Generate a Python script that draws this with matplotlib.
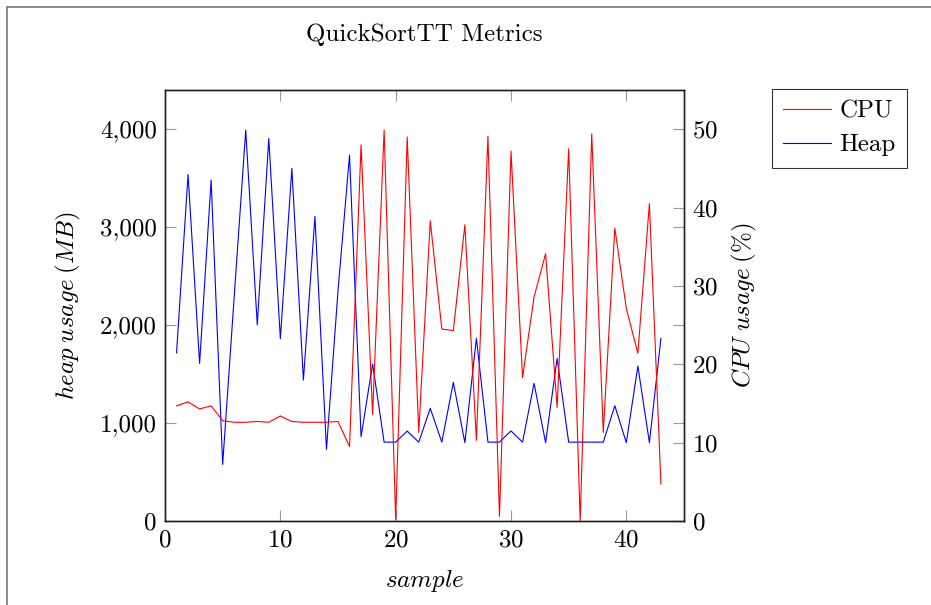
import matplotlib
matplotlib.use("Agg")
import matplotlib.pyplot as plt
from matplotlib.patches import Rectangle
from matplotlib.ticker import FuncFormatter

plt.rcParams["font.family"] = ["cmr10", "DejaVu Serif"]
plt.rcParams["mathtext.fontset"] = "cm"
plt.rcParams["axes.formatter.use_mathtext"] = True

samples = list(range(1, 44))

heap_mb = [
    1717, 3537, 1609, 3480, 578, 2290, 3990, 2003, 3905, 1861,
    3599, 1439, 3109, 731, 2350, 3735, 860, 1602, 805, 805,
    918, 805, 1150, 805, 1415, 800, 1864, 805, 805, 920,
    805, 1405, 800, 1660, 805, 805, 805, 805, 1177, 800,
    1582, 800, 1864,
]

cpu_pct = [
    14.7, 15.2, 14.3, 14.7, 12.8, 12.6, 12.6, 12.7, 12.6, 13.4,
    12.7, 12.6, 12.6, 12.6, 12.7, 9.5, 48.0, 13.6, 49.9, 0.2,
    49.0, 11.3, 38.3, 24.5, 24.3, 37.8, 10.3, 49.1, 0.6, 47.2,
    18.3, 28.6, 34.1, 14.5, 47.5, 0.0, 49.4, 11.3, 37.4, 27.1,
    21.4, 40.5, 4.7,
]

fig = plt.figure(figsize=(9.31, 6.05), dpi=100)
ax = fig.add_axes([165 / 931, 1 - 521 / 605, 519 / 931, 431 / 605])
ax2 = ax.twinx()

# outer frame (cut off at right and bottom like the original)
fig.patches.append(Rectangle((7 / 931, -0.1), 1.2, 1 - 7 / 605 + 0.1,
                             transform=fig.transFigure, fill=False,
                             edgecolor="#777777", linewidth=1.2))

h_heap, = ax.plot(samples, heap_mb, color="blue", lw=0.8, label="Heap")
h_cpu, = ax2.plot(samples, cpu_pct, color="red", lw=0.8, label="CPU")

ax.set_xlim(0, 45)
ax.set_ylim(0, 4400)
ax2.set_ylim(0, 55)
ax.set_xticks([0, 10, 20, 30, 40])
ax.set_yticks([0, 1000, 2000, 3000, 4000])
ax2.set_yticks([0, 10, 20, 30, 40, 50])
ax.yaxis.set_major_formatter(FuncFormatter(lambda v, p: f"{v:,.0f}"))

fs = 18
tick_kw = dict(direction="in", length=8, width=0.8, color="#999999",
               labelsize=fs, labelcolor="black")
ax.tick_params(axis="x", top=True, pad=6, **tick_kw)
ax.tick_params(axis="y", right=True, labelright=False, pad=6, **tick_kw)
ax2.tick_params(axis="y", pad=6, **tick_kw)

for a in (ax, ax2):
    for s in a.spines.values():
        s.set_color("#222222")
        s.set_linewidth(1.0)

ax.set_xlabel(r"$sample$", fontsize=fs, labelpad=12)
ax.set_ylabel(r"$heap\;usage\;(MB)$", fontsize=fs, labelpad=12)
ax2.set_ylabel(r"$CPU\;usage\;(\%)$", fontsize=fs, labelpad=8)

fig.text(424.5 / 931, 1 - 35 / 605, "QuickSortTT Metrics", fontsize=fs,
         ha="center", va="center")

leg = fig.legend([h_cpu, h_heap], ["CPU", "Heap"], loc="upper left",
                 bbox_to_anchor=(772 / 931, 1 - 89 / 605), fontsize=fs,
                 frameon=True, fancybox=False, edgecolor="black",
                 handlelength=1.9, handletextpad=0.35, borderpad=0.45,
                 labelspacing=0.45, borderaxespad=0)
leg.get_frame().set_linewidth(0.8)

fig.savefig("out.png", dpi=100)
